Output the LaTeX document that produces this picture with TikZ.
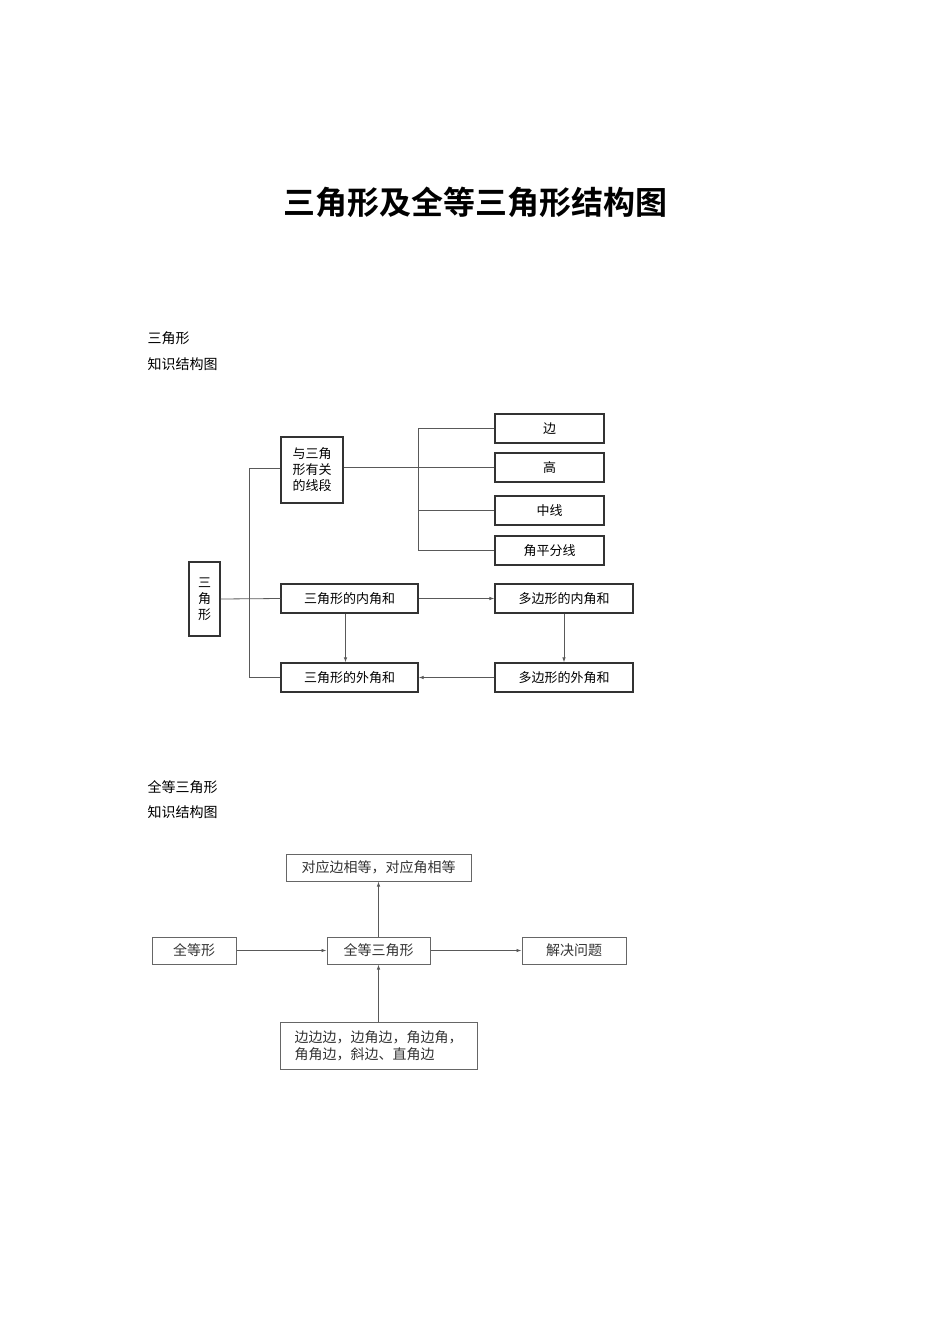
\documentclass[tikz,border=0pt]{standalone}
\usepackage{fontspec}
\setmainfont{Noto Sans CJK SC}
\newfontfamily\cjkb{Noto Sans CJK SC Bold}
\usetikzlibrary{arrows.meta}
\begin{document}
\begin{tikzpicture}[x=1pt,y=-1pt,
  bx/.style={draw=black!80,line width=1.3pt,inner sep=0pt,font=\fontsize{13}{16}\selectfont},
  gx/.style={draw=black!60,line width=1pt,inner sep=0pt,font=\fontsize{14}{17}\selectfont,text=black!80},
  ln/.style={draw=black!65,line width=0.8pt},
  ar/.style={ln,-{Latex[length=5pt,width=3.5pt]}}]
\useasboundingbox (0,0) rectangle (950,1344);
\node[font=\cjkb\fontsize{32}{36}\selectfont] (title) at (475,202) {三角形及全等三角形结构图};
\node[anchor=west,font=\fontsize{14}{16}\selectfont] (l1) at (144,338) {三角形};
\node[anchor=west,font=\fontsize{14}{16}\selectfont] (l2) at (144,364) {知识结构图};
\node[anchor=west,font=\fontsize{14}{16}\selectfont] (l3) at (144,787) {全等三角形};
\node[anchor=west,font=\fontsize{14}{16}\selectfont] (l4) at (144,812) {知识结构图};
% diagram 1
\node[bx,minimum width=31,minimum height=74,align=center] (tri) at (204.5,599) {三\\角\\形};
\node[bx,minimum width=62,minimum height=66,align=center] (seg) at (312,470) {与三角\\形有关\\的线段};
\node[bx,minimum width=109,minimum height=29] (bian) at (549.5,428.5) {边};
\node[bx,minimum width=109,minimum height=29] (gao) at (549.5,467.5) {高};
\node[bx,minimum width=109,minimum height=29] (zx) at (549.5,510.5) {中线};
\node[bx,minimum width=109,minimum height=29] (jp) at (549.5,550.5) {角平分线};
\node[bx,minimum width=137,minimum height=29] (tn) at (349.5,598.5) {三角形的内角和};
\node[bx,minimum width=138,minimum height=29] (pn) at (564,598.5) {多边形的内角和};
\node[bx,minimum width=137,minimum height=29] (tw) at (349.5,677.5) {三角形的外角和};
\node[bx,minimum width=138,minimum height=29] (pw) at (564,677.5) {多边形的外角和};
\coordinate (b1) at (418,428.5);
\coordinate (b2) at (418,550.5);
\coordinate (c1) at (249,468);
\coordinate (c2) at (249,677.5);
\draw[ln] (seg.east |- gao.west) -- (gao.west);
\draw[ln] (bian.west) -- (b1) -- (b2) -- (jp.west);
\draw[ln] (b1 |- zx.west) -- (zx.west);
\draw[ln] (tri.east) -- (tn.west);
\draw[ln] (seg.west |- c1) -- (c1) -- (c2) -- (tw.west);
\draw[ar] (tn.east) -- (pn.west);
\draw[ar] (pw.west) -- (tw.east);
\draw[ar] ([xshift=-4pt]tn.south) -- ([xshift=-4pt]tn.south |- tw.north);
\draw[ar] (pn.south) -- (pn.south |- pw.north);
% diagram 2
\node[gx,minimum width=185,minimum height=27] (dy) at (378.5,867.5) {对应边相等，对应角相等};
\node[gx,minimum width=84,minimum height=27] (qd) at (194,950.5) {全等形};
\node[gx,minimum width=103,minimum height=27] (qs) at (378.5,950.5) {全等三角形};
\node[gx,minimum width=104,minimum height=27] (jj) at (574,950.5) {解决问题};
\node[gx,minimum width=197,minimum height=47,align=left] (pd) at (378.5,1045.5) {边边边，边角边，角边角，\\角角边，斜边、直角边};
\draw[ar] (qd.east) -- (qs.west);
\draw[ar] (qs.east) -- (jj.west);
\draw[ar] (qs.north) -- (dy.south);
\draw[ar] (pd.north) -- (qs.south);
\end{tikzpicture}
\end{document}
